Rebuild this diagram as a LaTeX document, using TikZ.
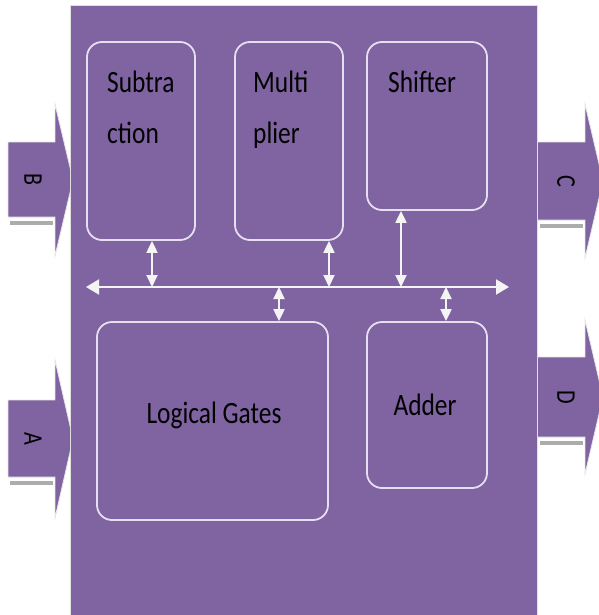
\documentclass[tikz,border=0pt]{standalone}
\usepackage{fontspec}
\newfontfamily\diafont[FakeStretch=0.82]{Carlito}
\usepackage{tikz}
\usetikzlibrary{arrows.meta, calc}
\definecolor{alupurple}{HTML}{8064A2}
\definecolor{unitline}{HTML}{E6DFEF}
\definecolor{busline}{HTML}{F4F4F4}
\tikzset{
    unit/.style={
        rectangle, rounded corners=15pt,
        draw=unitline, line width=1.8pt,
        inner sep=0pt
    },
    lbl/.style={
        inner sep=0pt, text=black,
        font=\diafont\fontsize{31}{36}\selectfont
    },
    iolbl/.style={
        inner sep=0pt, text=black, rotate=-90,
        font=\diafont\fontsize{27}{32}\selectfont
    },
    blockarrow/.style={fill=alupurple, draw=white!80!gray, line width=0.8pt},
    shadowline/.style={draw=gray!65, line width=4pt},
    bus/.style={{Triangle[width=15pt,length=13pt]}-{Triangle[width=15pt,length=13pt]}, draw=busline, line width=2pt},
    tap/.style={{Triangle[width=11pt,length=12pt]}-{Triangle[width=11pt,length=12pt]}, draw=busline, line width=2pt}
}
\begin{document}
\begin{tikzpicture}[x=1pt, y=-1pt]
    \useasboundingbox (0,0) rectangle (598,615);

    % input and output arrows
    \draw[shadowline] (10,223) -- (53,223);
    \draw[shadowline] (10,483) -- (53,483);
    \draw[shadowline] (540,226) -- (583,226);
    \draw[shadowline] (540,443) -- (583,443);
    \draw[blockarrow] (8,142) -- (55,142) -- (55,104) -- (73,180) -- (55,256) -- (55,217) -- (8,217) -- cycle;
    \draw[blockarrow] (8,400) -- (55,400) -- (55,360) -- (73,439) -- (55,518) -- (55,477) -- (8,477) -- cycle;
    \draw[blockarrow] (537,142) -- (585,142) -- (585,104) -- (603,181) -- (585,258) -- (585,220) -- (537,220) -- cycle;
    \draw[blockarrow] (537,357) -- (585,357) -- (585,320) -- (603,397) -- (585,474) -- (585,437) -- (537,437) -- cycle;

    % alu body
    \fill[alupurple, draw=gray!25, line width=0.8pt] (70,5) rectangle (537,620);

    \node[iolbl] (inb) at (33,180) {B};
    \node[iolbl] (ina) at (33,439) {A};
    \node[iolbl] (outc) at (566,181) {C};
    \node[iolbl] (outd) at (566,397) {D};

    % units
    \node[unit, minimum width=108pt, minimum height=198pt] (sub) at (141,141) {};
    \node[unit, minimum width=108pt, minimum height=198pt] (mul) at (289,141) {};
    \node[unit, minimum width=120pt, minimum height=168pt] (shf) at (427,126) {};
    \node[unit, minimum width=231pt, minimum height=198pt] (lgc) at (212.5,421) {};
    \node[unit, minimum width=120pt, minimum height=166pt] (add) at (427,405) {};

    \node[lbl, anchor=base west] (subt1) at (107,93) {Subtra};
    \node[lbl, anchor=base west] (subt2) at (107,143) {ction};
    \node[lbl, anchor=base west] (mult1) at (253,93) {Multi};
    \node[lbl, anchor=base west] (mult2) at (253,143) {plier};
    \node[lbl, anchor=base west] (shft) at (388,93) {Shifter};
    \node[lbl, anchor=base] (lgct) at (214,423) {Logical Gates};
    \node[lbl, anchor=base] (addt) at (425,415) {Adder};

    % bus
    \coordinate (busL) at (86,287);
    \coordinate (busR) at (509,287);
    \draw[bus] (busL) -- (busR);

    \coordinate (t1) at (152,287);
    \coordinate (t2) at (329,287);
    \coordinate (t3) at (401,287);
    \coordinate (t4) at (279,287);
    \coordinate (t5) at (446,287);
    \draw[tap] (t1 |- sub.south) -- (t1);
    \draw[tap] (t2 |- mul.south) -- (t2);
    \draw[tap] (t3 |- shf.south) -- (t3);
    \draw[tap] (t4) -- (t4 |- lgc.north);
    \draw[tap] (t5) -- (t5 |- add.north);
\end{tikzpicture}
\end{document}
